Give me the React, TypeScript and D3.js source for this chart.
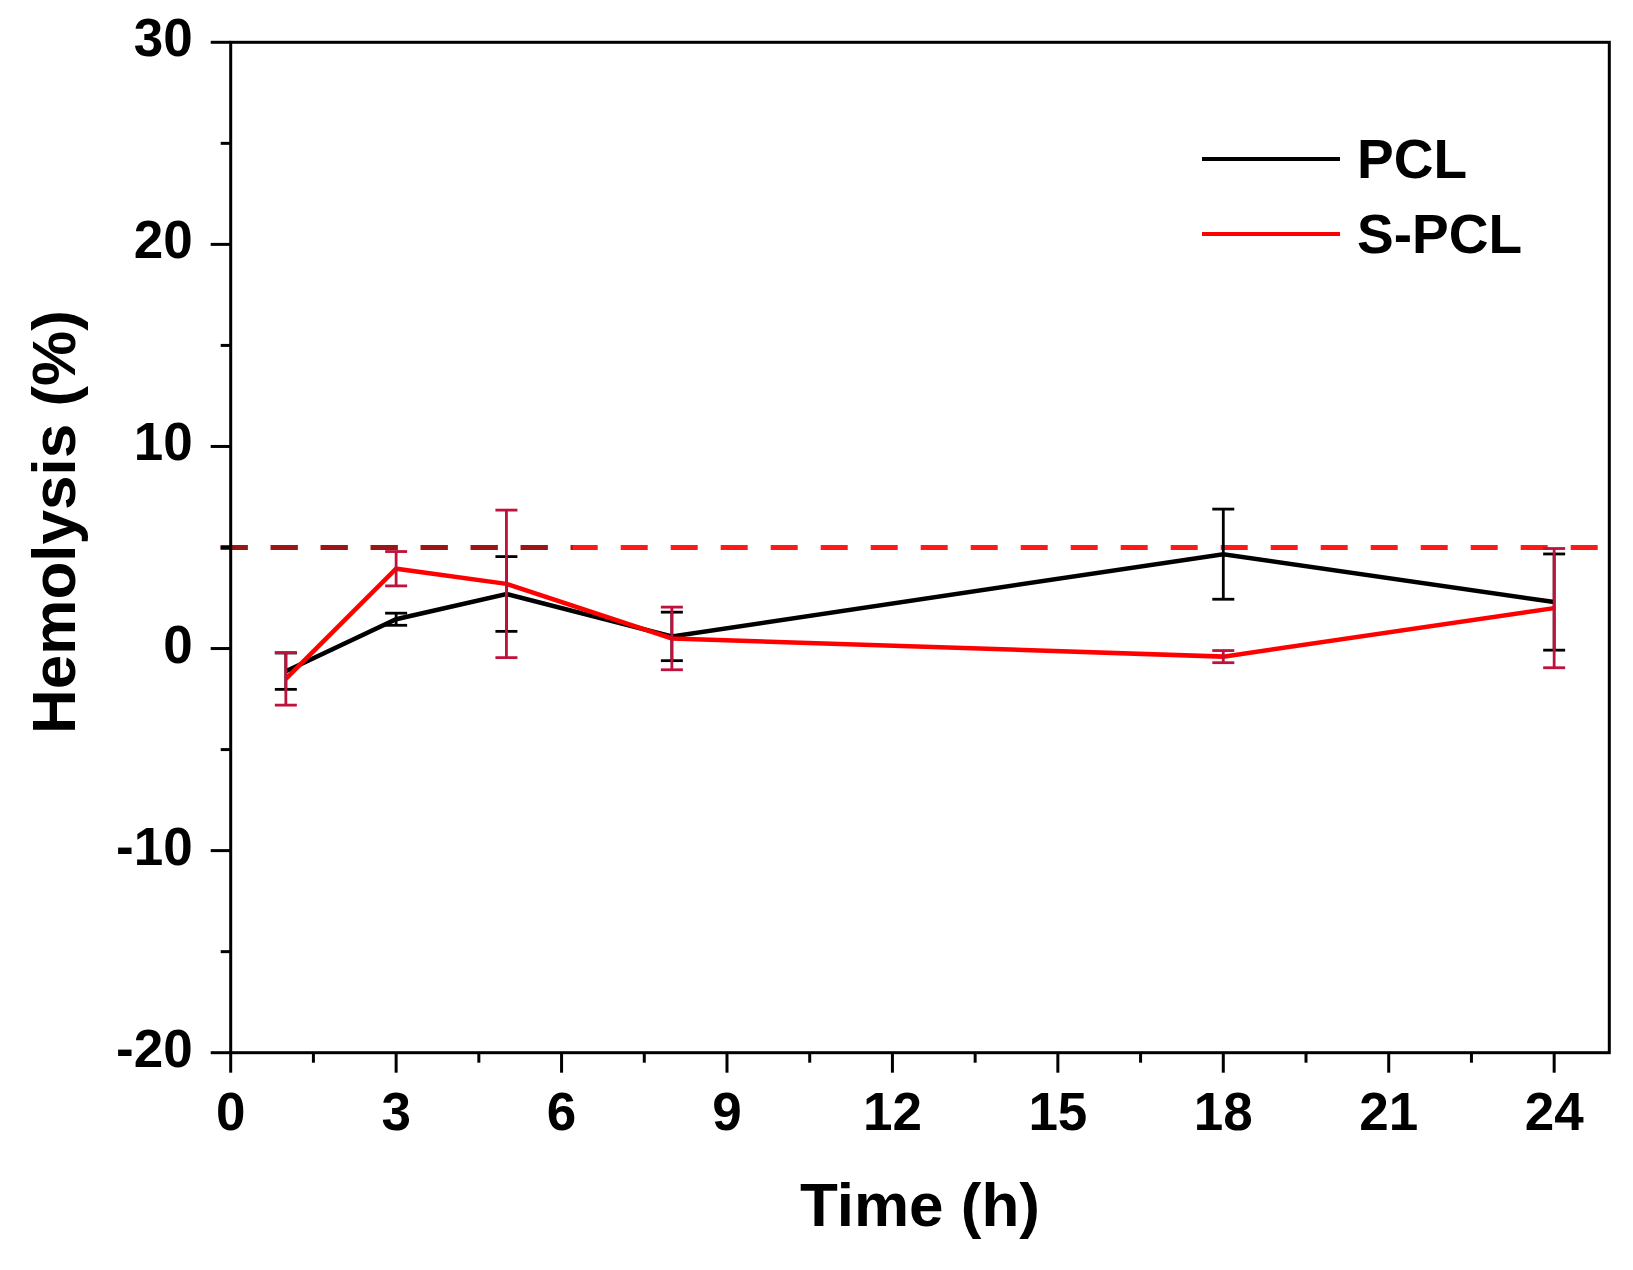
import * as d3 from "d3";
import React from "react";

// hemolysis (%)
const times = [1, 3, 5, 8, 18, 24];
const pclMean = [-1.12, 1.45, 2.7, 0.6, 4.67, 2.3];
const pclErr = [0.9, 0.3, 1.85, 1.2, 2.23, 2.38];
const spclMean = [-1.5, 3.95, 3.2, 0.5, -0.4, 2.0];
const spclErr = [1.3, 0.85, 3.65, 1.55, 0.3, 2.95];

const xTicks = [0, 3, 6, 9, 12, 15, 18, 21, 24];
const xMinor = [1.5, 4.5, 7.5, 10.5, 13.5, 16.5, 19.5, 22.5];
const yTicks = [-20, -10, 0, 10, 20, 30];
const yMinor = [-15, -5, 5, 15, 25];
const threshold = 5;
const seriesNames = ["PCL", "S-PCL"];

const W = 1633;
const H = 1270;
const font = "'Liberation Sans', Arial, Helvetica, sans-serif";

const App = () => {
  const x = d3.scaleLinear().domain([0, 25]).range([230.7, 1609.3]);
  const y = d3.scaleLinear().domain([-20, 30]).range([1052.7, 42.3]);

  const line = d3
    .line<number>()
    .x((_, i) => x(times[i]))
    .y((d) => y(d))
    .curve(d3.curveLinear);

  const series = [
    { name: seriesNames[0], mean: pclMean, err: pclErr, line: "#000", bar: "#000" },
    { name: seriesNames[1], mean: spclMean, err: spclErr, line: "#ff0000", bar: "#c0103c" },
  ];

  const left = x(0);
  const right = x(25);
  const top = y(30);
  const bottom = y(-20);
  const cap = 11;

  return (
    <svg
      width={W}
      height={H}
      style={{ position: "absolute", left: 0, top: 0, background: "#fff" }}
      fontFamily={font}
      fontWeight="bold"
    >
      <defs>
        <clipPath id="darkPart">
          <rect x={0} y={0} width={x(6.2)} height={H} />
        </clipPath>
      </defs>

      {/* threshold dashed line, darker at the left end */}
      <line
        x1={left - 10}
        x2={right - 6}
        y1={y(threshold)}
        y2={y(threshold)}
        stroke="#ff1a1a"
        strokeWidth={5}
        strokeDasharray="27 23"
      />
      <line
        x1={left - 10}
        x2={right - 6}
        y1={y(threshold)}
        y2={y(threshold)}
        stroke="#9a1515"
        strokeWidth={5}
        strokeDasharray="27 23"
        clipPath="url(#darkPart)"
      />

      {series.map((s) => (
        <g key={s.name}>
          <path
            d={line(s.mean) || undefined}
            fill="none"
            stroke={s.line}
            strokeWidth={4.5}
            strokeLinejoin="miter"
          />
          {s.mean.map((m, i) => {
            const cx = x(times[i]);
            const y1 = y(m + s.err[i]);
            const y2 = y(m - s.err[i]);
            return (
              <g key={i} stroke={s.bar} strokeWidth={2.8}>
                <line x1={cx} x2={cx} y1={y1} y2={y2} />
                <line x1={cx - cap} x2={cx + cap} y1={y1} y2={y1} />
                <line x1={cx - cap} x2={cx + cap} y1={y2} y2={y2} />
              </g>
            );
          })}
        </g>
      ))}

      {/* frame */}
      <rect
        x={left}
        y={top}
        width={right - left}
        height={bottom - top}
        fill="none"
        stroke="#000"
        strokeWidth={3}
      />

      {/* y axis */}
      {yTicks.map((t) => (
        <g key={t}>
          <line x1={left - 20} x2={left} y1={y(t)} y2={y(t)} stroke="#000" strokeWidth={3} />
          <text x={left - 38} y={y(t) + 14} textAnchor="end" fontSize={53} fill="#000">
            {t}
          </text>
        </g>
      ))}
      {yMinor.map((t) => (
        <line key={t} x1={left - 10} x2={left} y1={y(t)} y2={y(t)} stroke="#000" strokeWidth={3} />
      ))}

      {/* x axis */}
      {xTicks.map((t) => (
        <g key={t}>
          <line x1={x(t)} x2={x(t)} y1={bottom} y2={bottom + 20} stroke="#000" strokeWidth={3} />
          <text x={x(t)} y={bottom + 77} textAnchor="middle" fontSize={53} fill="#000">
            {t}
          </text>
        </g>
      ))}
      {xMinor.map((t) => (
        <line key={t} x1={x(t)} x2={x(t)} y1={bottom} y2={bottom + 10} stroke="#000" strokeWidth={3} />
      ))}

      {/* axis titles */}
      <text x={(left + right) / 2} y={1226} textAnchor="middle" fontSize={62} fill="#000">
        Time (h)
      </text>
      <text
        transform={`translate(75, 522) rotate(-90)`}
        textAnchor="middle"
        fontSize={62}
        fill="#000"
      >
        Hemolysis (%)
      </text>

      {/* legend */}
      {series.map((s, i) => (
        <g key={s.name} transform={`translate(1202, ${159 + i * 75})`}>
          <line x1={0} x2={138} y1={0} y2={0} stroke={s.line} strokeWidth={4} />
          <text x={155} y={19} fontSize={55} fill="#000">
            {s.name}
          </text>
        </g>
      ))}
    </svg>
  );
};

export default App;
